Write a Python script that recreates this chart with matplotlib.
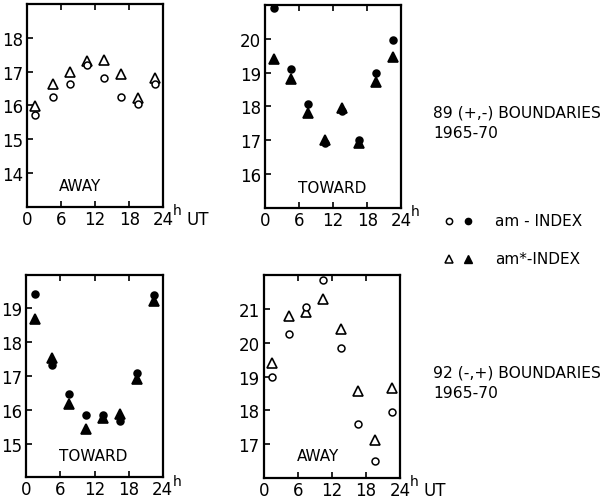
import matplotlib
matplotlib.use("Agg")
import matplotlib.pyplot as plt

# bin centres (UT hours)
ut = [1.5, 4.5, 7.5, 10.5, 13.5, 16.5, 19.5, 22.5]

# 89 (+,-) boundaries: away then toward
away1_am = [15.73, 16.26, 16.63, 17.19, 16.81, 16.26, 16.03, 16.63]
away1_amstar = [15.99, 16.64, 17.0, 17.31, 17.33, 16.92, 16.23, 16.81]
toward1_am = [20.9, 19.1, 18.08, 16.92, 17.85, 17.0, 19.0, 19.97]
toward1_amstar = [19.41, 18.82, 17.82, 17.02, 17.95, 16.92, 18.73, 19.46]

# 92 (-,+) boundaries: toward then away
toward2_am = [19.42, 17.33, 16.47, 15.85, 15.85, 15.66, 17.1, 19.39]
toward2_amstar = [18.7, 17.52, 16.18, 15.44, 15.76, 15.89, 16.92, 19.23]
away2_am = [19.0, 20.26, 21.07, 21.85, 19.83, 17.6, 16.5, 17.95]
away2_amstar = [19.41, 20.8, 20.9, 21.3, 20.41, 18.58, 17.13, 18.66]

xticks = [0, 6, 12, 18, 24]
xticklabels = ["0", "6", "12", "18", "24"]

plt.rcParams["font.family"] = ["DejaVu Sans"]
fig = plt.figure(figsize=(6.12, 5.02), dpi=100)

W, H = 0.223, 0.404
panels = [
    # rect, circles, triangles, filled, ylim, yticks, label, label pos, UT
    ([0.044, 0.586, W, H], away1_am, away1_amstar, False, (13, 19), [14, 15, 16, 17, 18], "AWAY", (0.39, 0.105), True),
    ([0.433, 0.584, W, H], toward1_am, toward1_amstar, True, (15, 21), [16, 17, 18, 19, 20], "TOWARD", (0.49, 0.102), False),
    ([0.043, 0.047, W, H], toward2_am, toward2_amstar, True, (14, 20), [15, 16, 17, 18, 19], "TOWARD", (0.49, 0.11), False),
    ([0.431, 0.046, W, H], away2_am, away2_amstar, False, (16, 22), [17, 18, 19, 20, 21], "AWAY", (0.394, 0.112), True),
]

for rect, circ, tri, filled, ylim, yt, lab, lpos, show_ut in panels:
    ax = fig.add_axes(rect)
    face = "black" if filled else "white"
    ax.plot(ut, tri, linestyle="none", marker="^", markersize=6.5,
            markerfacecolor=face, markeredgecolor="black", markeredgewidth=1.2)
    ax.plot(ut, circ, linestyle="none", marker="o", markersize=5,
            markerfacecolor=face, markeredgecolor="black", markeredgewidth=1.1)
    ax.set_xlim(0, 24)
    ax.set_ylim(*ylim)
    ax.set_xticks(xticks)
    ax.set_xticklabels(xticklabels)
    ax.set_yticks(yt)
    ax.tick_params(direction="in", length=4, width=1.2, labelsize=12,
                   top=True, pad=3)
    ax.tick_params(axis="x", pad=2)
    for s in ax.spines.values():
        s.set_linewidth(1.6)
    ax.text(lpos[0], lpos[1], lab, transform=ax.transAxes, ha="center",
            va="center", fontsize=11)
    ax.text(1.07, -0.05, "h", transform=ax.transAxes, ha="left",
            va="bottom", fontsize=10)
    if show_ut:
        ax.text(1.17, -0.06, "UT", transform=ax.transAxes, ha="left",
                va="center", fontsize=12)

# right-hand annotations
fig.text(433 / 612, 1 - 113 / 502, "89 (+,-) BOUNDARIES", ha="left",
         va="center", fontsize=11.2)
fig.text(433 / 612, 1 - 133 / 502, "1965-70", ha="left", va="center",
         fontsize=11.2)
fig.text(433 / 612, 1 - 373 / 502, "92 (-,+) BOUNDARIES", ha="left",
         va="center", fontsize=11.2)
fig.text(433 / 612, 1 - 394 / 502, "1965-70", ha="left", va="center",
         fontsize=11.2)

# legend
leg = fig.add_axes([0, 0, 1, 1], facecolor="none")
leg.set_xlim(0, 612)
leg.set_ylim(502, 0)
leg.axis("off")
leg.plot([449], [222], marker="o", markersize=4.5, markerfacecolor="white",
         markeredgecolor="black", markeredgewidth=1.1)
leg.plot([468], [222], marker="o", markersize=4.5, markerfacecolor="black",
         markeredgecolor="black")
leg.plot([449], [260], marker="^", markersize=5.5, markerfacecolor="white",
         markeredgecolor="black", markeredgewidth=1.1)
leg.plot([468], [260], marker="^", markersize=5.5, markerfacecolor="black",
         markeredgecolor="black")
leg.text(495, 222, "am - INDEX", ha="left", va="center", fontsize=11)
leg.text(495, 260, "am*-INDEX", ha="left", va="center", fontsize=11)

fig.savefig("out.png", dpi=100)
